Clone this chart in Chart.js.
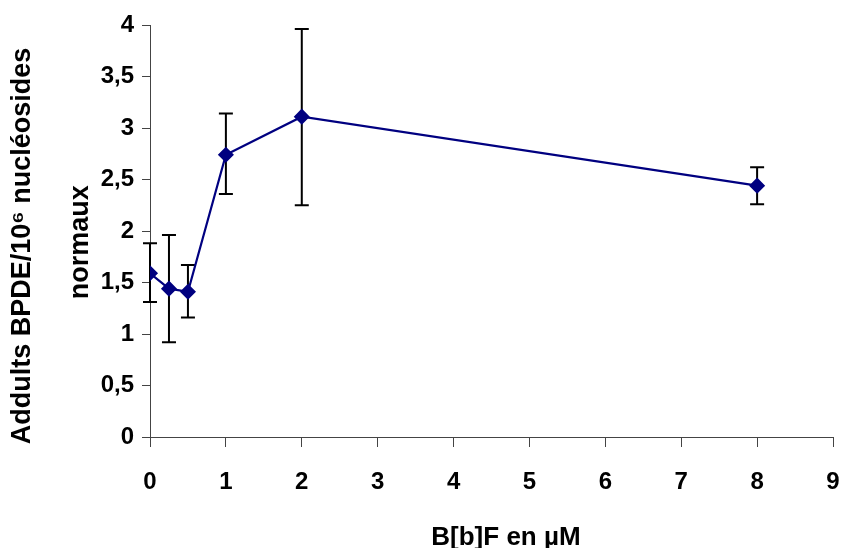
<!DOCTYPE html>
<html lang="fr">
<head>
<meta charset="UTF-8">
<title>Addults BPDE</title>
<script src="https://cdn.jsdelivr.net/npm/chart.js"></script>
<style>
  body { margin: 0; background: #fff; }
</style>
</head>
<body>
<canvas id="chart" width="843" height="548"></canvas>
<script>
// concentrations B[b]F (µM)
var doses = [0, 0.25, 0.5, 1, 2, 8];
// adduits moyens et bornes des barres d'erreur
var adducts = [1.59, 1.44, 1.41, 2.74, 3.11, 2.44];
var errLow  = [1.31, 0.92, 1.16, 2.36, 2.25, 2.26];
var errHigh = [1.88, 1.96, 1.67, 3.14, 3.96, 2.62];

var yTicks = [0, 0.5, 1, 1.5, 2, 2.5, 3, 3.5, 4];
var yTickLabels = ['0', '0,5', '1', '1,5', '2', '2,5', '3', '3,5', '4'];
var xTicks = [0, 1, 2, 3, 4, 5, 6, 7, 8, 9];

var FONT = "'Liberation Sans', Arial, sans-serif";
var NB = '\u00A0\u00A0\u00A0\u00A0'; // nudges the centred titles like the original

// draw the error bars under the points
var errorBars = {
    id: 'errorBars',
    beforeDatasetsDraw: function (chart) {
        var ctx = chart.ctx;
        var xs = chart.scales.x, ys = chart.scales.y;
        ctx.save();
        ctx.strokeStyle = '#000';
        ctx.lineWidth = 2;
        for (var i = 0; i < doses.length; i++) {
            var px = xs.getPixelForValue(doses[i]);
            var top = ys.getPixelForValue(errHigh[i]);
            var bot = ys.getPixelForValue(errLow[i]);
            ctx.beginPath();
            ctx.moveTo(px, top); ctx.lineTo(px, bot);
            ctx.moveTo(px - 7, top); ctx.lineTo(px + 7, top);
            ctx.moveTo(px - 7, bot); ctx.lineTo(px + 7, bot);
            ctx.stroke();
        }
        ctx.restore();
    }
};

var points = doses.map(function (d, i) { return { x: d, y: adducts[i] }; });

new Chart(document.getElementById('chart'), {
    type: 'line',
    data: {
        datasets: [{
            data: points,
            borderColor: '#000080',
            backgroundColor: '#000080',
            borderWidth: 2.2,
            pointStyle: 'rectRot',
            pointRadius: 6.5,
            pointHoverRadius: 6.5,
            tension: 0
        }]
    },
    options: {
        responsive: false,
        animation: false,
        layout: { padding: { top: 25, right: 10, left: 0, bottom: 0 } },
        plugins: { legend: { display: false }, tooltip: { enabled: false } },
        scales: {
            x: {
                type: 'linear',
                min: 0, max: 9,
                afterBuildTicks: function (s) { s.ticks = xTicks.map(function (v) { return { value: v }; }); },
                afterFit: function (s) { s.height = 111; s.paddingLeft = 0; s.paddingRight = 0; },
                grid: { drawOnChartArea: false, tickLength: 10, color: '#444' },
                border: { color: '#444', width: 1 },
                ticks: { color: '#000', padding: 21, maxRotation: 0, font: { family: FONT, size: 24, weight: 'bold' } },
                title: {
                    display: true,
                    text: NB + 'B[b]F en µM',
                    color: '#000',
                    padding: { top: 0, bottom: -5 },
                    font: { family: FONT, size: 26, weight: 'bold' }
                }
            },
            y: {
                min: 0, max: 4,
                afterBuildTicks: function (s) { s.ticks = yTicks.map(function (v) { return { value: v }; }); },
                afterFit: function (s) { s.width = 150; s.paddingTop = 0; s.paddingBottom = 0; },
                grid: { drawOnChartArea: false, tickLength: 8, color: '#444' },
                border: { color: '#444', width: 1 },
                ticks: {
                    color: '#000', padding: 8,
                    font: { family: FONT, size: 24, weight: 'bold' },
                    callback: function (v) { return yTickLabels[yTicks.indexOf(v)]; }
                },
                title: {
                    display: true,
                    text: ['Addults BPDE/10⁶ nucléosides' + NB, 'normaux\u00A0\u00A0\u00A0'],
                    color: '#000',
                    padding: { top: -6, bottom: 0 },
                    font: { family: FONT, size: 27, weight: 'bold', lineHeight: '58px' }
                }
            }
        }
    },
    plugins: [errorBars]
});
</script>
</body>
</html>
